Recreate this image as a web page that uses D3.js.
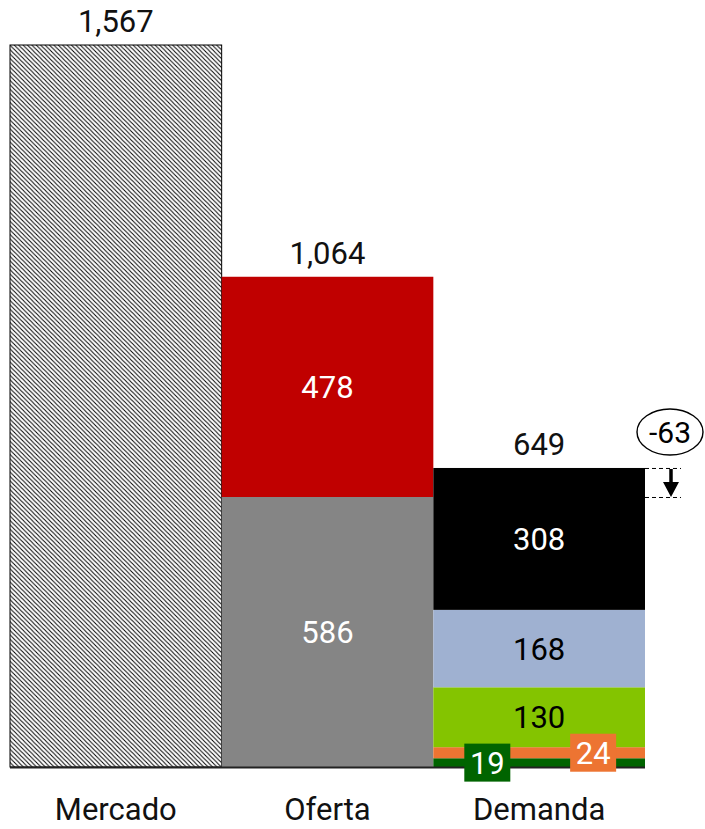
<!DOCTYPE html>
<html>
<head>
<meta charset="utf-8">
<script src="https://cdn.jsdelivr.net/npm/d3@7"></script>
<style>
  html, body { margin: 0; padding: 0; background: #fff; }
  svg { display: block; font-family: Roboto, "Noto Sans", sans-serif; }
</style>
</head>
<body>
<div id="chart"></div>
<script>
const categories = ["Mercado", "Oferta", "Demanda"];
const totals = [1567, 1064, 649];

// stacked segments, bottom to top
const segments = [
  { cat: "Mercado", name: "Mercado", value: 1567 },
  { cat: "Oferta", name: "Oferta gris", value: 586 },
  { cat: "Oferta", name: "Oferta roja", value: 478 },
  { cat: "Demanda", name: "Verde oscuro", value: 19 },
  { cat: "Demanda", name: "Naranja", value: 24 },
  { cat: "Demanda", name: "Verde", value: 130 },
  { cat: "Demanda", name: "Azul", value: 168 },
  { cat: "Demanda", name: "Negro", value: 308 },
];

const fills = {
  "Mercado": "url(#hatch)",
  "Oferta gris": "#858585",
  "Oferta roja": "#c00000",
  "Verde oscuro": "#006400",
  "Naranja": "#ed7432",
  "Verde": "#84c400",
  "Azul": "#9fb1d1",
  "Negro": "#000000",
};
const textColors = { "Azul": "#000", "Verde": "#000" };
// small segments get a boxed label, offset inside the band
const boxedLabels = { "Verde oscuro": 0.255, "Naranja": 0.755 };

const W = 705, H = 829;
const FS = 31;
const fmt = d3.format(",");

const svg = d3.select("#chart").append("svg").attr("width", W).attr("height", H);

const defs = svg.append("defs");
const hs = 4.4;
const pat = defs.append("pattern")
  .attr("id", "hatch").attr("patternUnits", "userSpaceOnUse")
  .attr("width", hs).attr("height", hs);
pat.append("rect").attr("width", hs).attr("height", hs).attr("fill", "#fff");
pat.append("path")
  .attr("d", `M-1,-1 L${hs + 1},${hs + 1} M${hs - 1},-1 L${hs + 1},1 M-1,${hs - 1} L1,${hs + 1}`)
  .attr("stroke", "#000").attr("stroke-width", 1);

const x = d3.scaleBand().domain(categories).range([10, 645]).padding(0);
const y = d3.scaleLinear().domain([0, 1567]).range([767, 45]);

// compute stack offsets
const base = {};
segments.forEach(s => {
  s.y0 = base[s.cat] || 0;
  s.y1 = s.y0 + s.value;
  base[s.cat] = s.y1;
});

svg.append("g").selectAll("rect").data(segments).join("rect")
  .attr("x", d => x(d.cat))
  .attr("width", x.bandwidth())
  .attr("y", d => y(d.y1))
  .attr("height", d => y(d.y0) - y(d.y1))
  .attr("fill", d => fills[d.name])
  .attr("stroke", d => d.name === "Mercado" ? "#000" : "none")
  .attr("stroke-width", 1);

// baseline
svg.append("line")
  .attr("x1", x.range()[0]).attr("x2", x.range()[1])
  .attr("y1", y(0) + 0.5).attr("y2", y(0) + 0.5)
  .attr("stroke", "#222").attr("stroke-width", 2);

// inner labels
const inner = segments.filter(d => d.name !== "Mercado" && !(d.name in boxedLabels));
svg.append("g").selectAll("text").data(inner).join("text")
  .attr("x", d => x(d.cat) + x.bandwidth() / 2)
  .attr("y", d => (y(d.y0) + y(d.y1)) / 2)
  .attr("dy", "0.36em")
  .attr("text-anchor", "middle")
  .attr("font-size", FS)
  .attr("fill", d => textColors[d.name] || "#fff")
  .text(d => fmt(d.value));

// boxed labels for thin segments
const boxed = segments.filter(d => d.name in boxedLabels);
const bg = svg.append("g").selectAll("g").data(boxed).join("g")
  .attr("transform", d => `translate(${x(d.cat) + x.bandwidth() * boxedLabels[d.name]},${(y(d.y0) + y(d.y1)) / 2})`);
bg.append("rect")
  .attr("x", -23).attr("y", -19).attr("width", 46).attr("height", 38)
  .attr("fill", d => fills[d.name]);
bg.append("text")
  .attr("dy", "0.36em").attr("text-anchor", "middle")
  .attr("font-size", FS).attr("fill", "#fff")
  .text(d => fmt(d.value));

// totals
svg.append("g").selectAll("text").data(categories).join("text")
  .attr("x", d => x(d) + x.bandwidth() / 2)
  .attr("y", (d, i) => y(totals[i]) - 13)
  .attr("text-anchor", "middle")
  .attr("font-size", FS)
  .attr("fill", "#111")
  .text((d, i) => fmt(totals[i]));

// category labels
svg.append("g").selectAll("text").data(categories).join("text")
  .attr("x", d => x(d) + x.bandwidth() / 2)
  .attr("y", 820)
  .attr("text-anchor", "middle")
  .attr("font-size", FS)
  .attr("fill", "#111")
  .text(d => d);

// difference annotation: Demanda vs Oferta gris
const hi = totals[2], lo = segments[1].value;
const diff = lo - hi;
const ax = x("Demanda") + x.bandwidth() + 26;
const ann = svg.append("g");
[hi, lo].forEach(v => {
  ann.append("line")
    .attr("x1", x("Demanda") + x.bandwidth()).attr("x2", ax + 10)
    .attr("y1", y(v) + 0.5).attr("y2", y(v) + 0.5)
    .attr("stroke", "#000").attr("stroke-width", 1)
    .attr("stroke-dasharray", "4,3");
});
ann.append("line")
  .attr("x1", ax).attr("x2", ax)
  .attr("y1", y(hi) + 1).attr("y2", y(lo) - 13)
  .attr("stroke", "#000").attr("stroke-width", 3.5);
ann.append("path")
  .attr("d", `M${ax - 8},${y(lo) - 15} L${ax + 8},${y(lo) - 15} L${ax},${y(lo)} Z`)
  .attr("fill", "#000");
ann.append("ellipse")
  .attr("cx", ax - 1).attr("cy", y(hi) - 36)
  .attr("rx", 33).attr("ry", 23)
  .attr("fill", "#fff").attr("stroke", "#000").attr("stroke-width", 1.4);
ann.append("text")
  .attr("x", ax - 1).attr("y", y(hi) - 36)
  .attr("dy", "0.36em").attr("text-anchor", "middle")
  .attr("font-size", 30).attr("fill", "#000")
  .text(diff);
</script>
</body>
</html>
